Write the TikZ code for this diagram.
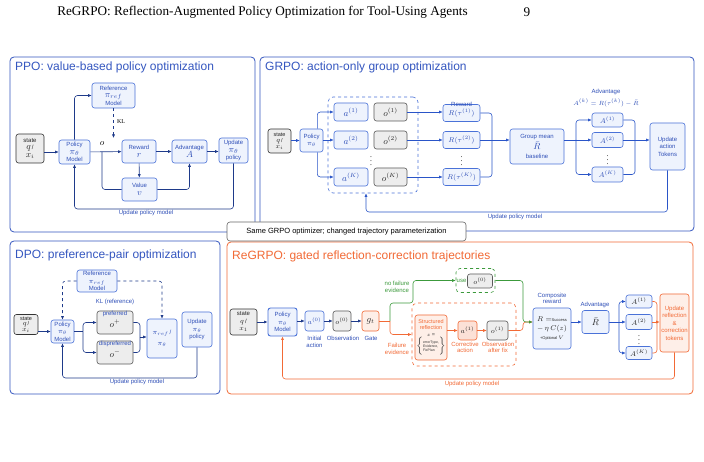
\documentclass[tikz,border=0pt]{standalone}
\usepackage{fontspec}
\setmainfont{Liberation Serif}
\setsansfont{Liberation Sans}
\usetikzlibrary{arrows.meta}
\definecolor{pblue}{HTML}{3557C0}
\definecolor{nblue}{HTML}{4A72D8}
\definecolor{bfill}{HTML}{EEF3FD}
\definecolor{navy}{HTML}{1E3A8A}
\definecolor{garr}{HTML}{2A55C8}
\definecolor{gborder}{HTML}{5A5A5A}
\definecolor{gfill}{HTML}{EDEDED}
\definecolor{orng}{HTML}{F26A36}
\definecolor{ofill}{HTML}{FEEFE8}
\definecolor{grn}{HTML}{3C9A3C}
\definecolor{tblue}{HTML}{3050B8}
\newcommand{\MyM}[1]{{\fontsize{9}{9}\selectfont$#1$}}
\newcommand{\MyS}[1]{{\fontsize{7.5}{8}\selectfont$#1$}}
\tikzset{
  panel/.style={draw=pblue, rounded corners=4pt, line width=0.8pt},
  ptitle/.style={anchor=west, font=\fontsize{12}{12}\selectfont\sffamily, text=pblue, inner sep=0pt},
  bx/.style={rounded corners=2.5pt, line width=0.6pt, align=center, inner sep=0pt,
     font=\fontsize{6}{7.5}\selectfont\sffamily},
  bbox/.style={bx, draw=nblue, fill=bfill, text=tblue},
  gbox/.style={bx, draw=gborder, fill=gfill, text=black!85},
  sbox/.style={bx, draw=black!80, fill=gfill, text=black!85},
  obox/.style={bx, draw=orng, fill=ofill, text=orng},
  lab/.style={font=\fontsize{6}{6.5}\selectfont\sffamily, text=tblue, align=center, inner sep=0pt},
  olab/.style={lab, text=orng},
  glab/.style={lab, text=grn},
  arr/.style={-{Latex[length=3.5pt,width=3pt]}, line width=0.6pt, draw=navy},
  ln/.style={line width=0.6pt, draw=navy},
  garrow/.style={arr, draw=garr},
  gln/.style={ln, draw=garr},
  oarr/.style={arr, draw=orng},
  oln/.style={ln, draw=orng},
  grarr/.style={arr, draw=grn},
}
\begin{document}
\begin{tikzpicture}[x=1pt,y=-1pt]
\useasboundingbox (0,0) rectangle (704,462);
\fill[white] (0,0) rectangle (704,462);
% header
\node[font=\fontsize{13.2}{14}\selectfont, inner sep=0pt] (hdr) at (262.5,12) {ReGRPO: Reflection-Augmented Policy Optimization for Tool-Using Agents};
\node[font=\fontsize{13.2}{14}\selectfont, inner sep=0pt] (pg) at (527,12) {9};

% ================= PPO =================
\draw[panel] (10,57) rectangle (255,232);
\node[ptitle] (t1) at (15,67) {PPO: value-based policy optimization};
\node[sbox, minimum width=28, minimum height=29] (pst) at (30,148.5) {state\\\MyM{q}\,/\\\MyM{x_i}};
\node[bbox, minimum width=31, minimum height=24] (ppol) at (74.5,152) {Policy\\\MyM{\pi_\theta}\\Model};
\node[bbox, minimum width=43, minimum height=25] (pref) at (113.5,95.5) {Reference\\\MyM{\pi_{ref}}\\Model};
\node[bbox, minimum width=34, minimum height=23] (prew) at (139,151.5) {Reward\\\MyM{r}};
\node[bbox, minimum width=35, minimum height=23] (padv) at (189.5,151.5) {Advantage\\\MyM{A}};
\node[bbox, minimum width=29, minimum height=25] (pupd) at (233.5,150.5) {Update\\\MyM{\pi_\theta}\\policy};
\node[bbox, minimum width=35, minimum height=23] (pval) at (139.5,189.5) {Value\\\MyM{v}};
\coordinate (pklend) at (113.5,138);
\coordinate (po) at (102,152);
\coordinate (pfb) at (150,209);
\node[inner sep=0pt] (polab) at (102,144) {\MyM{o}};
\node[inner sep=0pt, font=\fontsize{6}{6}\selectfont] (pkl) at (121,122) {KL};
\draw[arr] (pst.east |- ppol) -- (ppol.west);
\draw[arr] (ppol) -- (prew);
\draw[ln, rounded corners=3pt] (po) |- (pval.west);
\draw[arr] (prew) -- (padv);
\draw[arr] (padv) -- (pupd.west |- padv);
\draw[arr] (prew) -- (pval);
\draw[arr, rounded corners=3pt] (pval.east) -| (padv.south);
\draw[arr, rounded corners=3pt] (ppol.north) |- (pref.west);
\draw[arr, dashed] (pref.south) -- (pklend);
\draw[arr, rounded corners=3pt] (pupd.south) |- (pfb) -| (ppol.south);
\node[lab] (pfbl) at (146,213) {Update policy model};

% ================= GRPO =================
\draw[panel] (260,57) rectangle (694,231);
\node[ptitle] (t2) at (265,67) {GRPO: action-only group optimization};
\node[sbox, minimum width=23, minimum height=24, font=\fontsize{5.5}{6}\selectfont\sffamily] (gst) at (279.5,141) {state\\\MyS{q}\,/\\\MyS{x_i}};
\node[bbox, minimum width=23, minimum height=23] (gpol) at (311.5,140.5) {Policy\\\MyS{\pi_\theta}};
\node[draw=nblue, dashed, rounded corners=5pt, line width=0.6pt, minimum width=90, minimum height=96, inner sep=0pt] (ggrp) at (373,145) {};
\node[bbox, minimum width=34, minimum height=18] (ga1) at (351,112) {\MyM{a^{(1)}}};
\node[gbox, minimum width=33, minimum height=18] (go1) at (390.5,112) {\MyM{o^{(1)}}};
\node[bbox, minimum width=34, minimum height=18] (ga2) at (351,140) {\MyM{a^{(2)}}};
\node[gbox, minimum width=33, minimum height=18] (go2) at (390.5,140) {\MyM{o^{(2)}}};
\node[bbox, minimum width=34, minimum height=18] (gaK) at (351,177) {\MyM{a^{(K)}}};
\node[gbox, minimum width=33, minimum height=18] (goK) at (390.5,177) {\MyM{o^{(K)}}};
\node[inner sep=0pt] (gd1) at (371,158) {\MyS{\vdots}};
\node[bbox, minimum width=37, minimum height=17] (gr1) at (461.5,113) {\MyS{R(\tau^{(1)})}};
\node[bbox, minimum width=37, minimum height=17] (gr2) at (461.5,140) {\MyS{R(\tau^{(2)})}};
\node[bbox, minimum width=37, minimum height=17] (grK) at (461.5,177) {\MyS{R(\tau^{(K)})}};
\node[lab] (grl) at (461.5,104) {Reward};
\node[inner sep=0pt] (gd2) at (461.5,158) {\MyS{\vdots}};
\draw[garrow] (gst.east |- gpol) -- (gpol.west);
\draw[garrow, rounded corners=3pt] ([xshift=-6pt]gpol.north east) |- (ga1.west);
\draw[garrow] (gpol.east |- ga2) -- (ga2.west);
\draw[garrow, rounded corners=3pt] ([xshift=-6pt]gpol.south east) |- (gaK.west);
\draw[garrow] (go1.east) -- (go1.east -| gr1.west);
\draw[garrow] (go2.east) -- (gr2.west);
\draw[garrow] (goK.east) -- (grK.west);
\coordinate (gbr) at (492,140);
\node[bbox, minimum width=54, minimum height=35] (gmean) at (537,146.5) {Group mean\\[1pt]\MyM{\bar R}\\[1pt]baseline};
\draw[gln, rounded corners=3pt] (gr1.east) -| (gbr) |- (grK.east);
\draw[gln] (gr2.east) -- (gbr);
\draw[garrow] (gbr) -- (gbr -| gmean.west);
\node[bbox, minimum width=31, minimum height=14] (gA1) at (607.5,120) {\MyS{A^{(1)}}};
\node[bbox, minimum width=31, minimum height=15] (gA2) at (607.5,140) {\MyS{A^{(2)}}};
\node[bbox, minimum width=31, minimum height=15] (gAK) at (607.5,174.5) {\MyS{A^{(K)}}};
\node[inner sep=0pt] (gd3) at (607.5,157) {\MyS{\vdots}};
\node[lab] (gadvl) at (606,92) {Advantage};
\node[lab] (gform) at (606,103) {$A^{(k)}=R(\tau^{(k)})-\bar R$};
\coordinate (gfk) at (576,140);
\draw[garrow] (gmean.east |- gfk) -- (gA2.west);
\draw[garrow, rounded corners=3pt] (gfk) |- (gA1.west);
\draw[garrow, rounded corners=3pt] (gfk) |- (gAK.west);
\node[bbox, minimum width=35, minimum height=47] (gupd) at (667.5,146.5) {Update\\action\\Tokens};
\coordinate (gbr2) at (635,140);
\draw[gln, rounded corners=3pt] (gA1.east) -| (gbr2) |- (gAK.east);
\draw[gln] (gA2.east) -- (gbr2);
\draw[garrow] (gbr2) -- (gbr2 -| gupd.west);
\coordinate (gfb) at (500,212);
\draw[garrow, rounded corners=3pt] (gupd.south) |- (gfb) -| ([xshift=-7pt]ggrp.south);
\node[lab] (gfbl) at (515,217) {Update policy model};

% ================= DPO =================
\draw[panel] (10,241) rectangle (220,394);
\node[ptitle] (t3) at (15,255) {DPO: preference-pair optimization};
\node[sbox, minimum width=24, minimum height=20, font=\fontsize{5.5}{5.5}\selectfont\sffamily] (dst) at (26,324.5) {state\\\MyS{q}\,/\\\MyS{x_i}};
\node[bbox, minimum width=23, minimum height=23] (dpol) at (62.5,331.5) {Policy\\\MyS{\pi_\theta}\\Model};
\node[bbox, minimum width=40, minimum height=22] (dref) at (97,281) {Reference\\\MyS{\pi_{ref}}\\Model};
\node[gbox, minimum width=36, minimum height=23] (dpre) at (115,322.5) {\\[1pt]\MyM{o^+}};
\node[gbox, minimum width=36, minimum height=23] (ddis) at (115,352.5) {\\[1pt]\MyM{o^-}};
\node[lab] (dprel) at (115,313.5) {preferred};
\node[lab] (ddisl) at (115,343.5) {dispreferred};
\node[bbox, minimum width=30, minimum height=39] (drat) at (162,338.5) {\MyS{\pi_{ref}}\,/\\[4pt]\MyS{\pi_\theta}};
\node[bbox, minimum width=30, minimum height=35] (dupd) at (197,329.5) {Update\\\MyS{\pi_\theta}\\policy};
\node[lab] (dkl) at (115,302) {KL (reference)};
\draw[arr] (dst.east |- dpol) -- (dpol.west);
\draw[arr, dashed, rounded corners=3pt] (dref.west) -| (dpol.north);
\draw[arr, dashed, rounded corners=3pt] (dref.east) -| (drat.north);
\coordinate (dfk) at (83,331.5);
\draw[ln] (dpol.east) -- (dfk);
\draw[arr, rounded corners=3pt] (dfk) |- (dpre.west);
\draw[arr, rounded corners=3pt] (dfk) |- (ddis.west);
\coordinate (dmg) at (140,337);
\draw[ln, rounded corners=3pt] (dpre.east) -| (dmg);
\draw[ln, rounded corners=3pt] (ddis.east) -| (dmg);
\draw[arr] (dmg) -- (dmg -| drat.west);
\coordinate (dfb) at (130,378);
\draw[arr, rounded corners=3pt] (dupd.south) |- (dfb) -| (dpol.south);
\node[lab] (dfbl) at (137,381.5) {Update policy model};

% ================= ReGRPO =================
\draw[panel, draw=orng] (227,242) rectangle (693,394);
\node[ptitle, text=orng] (t4) at (232,256) {ReGRPO: gated reflection-correction trajectories};
\node[sbox, minimum width=27, minimum height=26] (rst) at (243.5,322) {state\\\MyS{q}\,/\\\MyS{x_1}};
\node[bbox, line width=0.9pt, minimum width=29, minimum height=28] (rpol) at (282.5,322) {Policy\\\MyS{\pi_\theta}\\Model};
\node[bbox, minimum width=19, minimum height=20] (ra0) at (314.5,321) {\MyS{a^{(0)}}};
\node[gbox, minimum width=18, minimum height=20] (ro0) at (342,321) {\MyS{o^{(0)}}};
\node[obox, minimum width=17, minimum height=20, text=black!85] (rg) at (370.5,321) {\MyM{g_t}};
\node[lab] (rl1) at (314.5,342) {Initial\\action};
\node[lab] (rl2) at (343,338) {Observation};
\node[lab] (rl3) at (371,338) {Gate};
\draw[arr] (rst.east |- rpol) -- (rpol.west);
\draw[arr] (rpol.east |- ra0) -- (ra0.west);
\draw[arr] (ra0) -- (ro0);
\draw[arr] (ro0) -- (rg);
\node[draw=grn, dashed, rounded corners=4pt, line width=0.6pt, minimum width=39, minimum height=24, inner sep=0pt] (ruse) at (475.5,280.5) {};
\node[glab] (rusel) at (461.5,281) {use};
\node[gbox, minimum width=25, minimum height=14] (ro0b) at (480,281) {\MyS{o^{(0)}}};
\node[draw=orng, dashed, rounded corners=5pt, line width=0.6pt, minimum width=104, minimum height=63, inner sep=0pt] (rfix) at (464,334.5) {};
\coordinate (rfk) at (390,321);
\coordinate (rgm) at (413,303);
\draw[oln, rounded corners=3pt] (rg.east) -- (rfk);
\draw[grarr, rounded corners=3pt] (rfk) |- (rgm) |- (ruse.west);
\draw[oarr, rounded corners=3pt] (rfk) |- (rfix.west);
\node[glab] (rnf) at (397,287) {no failure\\evidence};
\node[olab] (rfe) at (397,349) {Failure\\evidence};
\node[obox, minimum width=32, minimum height=45, text=orng, font=\fontsize{5.5}{6}\selectfont\sffamily] (rrefl) at (431,337.5)
  {Structured\\reflection\\[1pt]{\color{black!80}$z$ =}\\{\color{black!80}$\left\{\begin{tabular}{@{}l@{}}\fontsize{3.5}{3.8}\selectfont errorType,\\[-2pt]\fontsize{3.5}{3.8}\selectfont Evidence,\\[-2pt]\fontsize{3.5}{3.8}\selectfont FixPlan\end{tabular}\right\}$}};
\node[obox, minimum width=19, minimum height=19, text=black!85, fill=orng!20] (ra1) at (467.5,330.5) {\MyS{a^{(1)}}};
\node[gbox, minimum width=21, minimum height=19] (ro1) at (497.5,330.5) {\MyS{o^{(1)}}};
\draw[oarr] (rrefl.east |- ra1) -- (ra1.west);
\draw[oarr] (ra1) -- (ro1);
\node[olab] (rl4) at (465,347.5) {Corrective\\action};
\node[olab] (rl5) at (498,347.5) {Observation\\after fix};
\node[bbox, minimum width=38, minimum height=41, text=black!85] (rcomp) at (552,328.5)
  {\MyS{R=}{\fontsize{4}{4}\selectfont Success}\\[2pt]\MyS{-\,\eta\,C(z)}\\[1pt]{\fontsize{4}{4}\selectfont +Optional $V$}};
\node[lab] (rcl) at (552,298.5) {Composite\\reward};
\coordinate (rmg) at (523,322);
\draw[oarr, rounded corners=3pt] (ro1.east) -| (rmg) -- (rmg -| rcomp.west);
\draw[grarr, rounded corners=3pt] (ruse.east) -| (rmg) -- (rmg -| rcomp.west);
\node[bbox, minimum width=27, minimum height=23, text=black!85] (radv) at (595.5,322) {\MyM{\bar R}};
\node[lab] (ral) at (595,305) {Advantage};
\draw[garrow] (rcomp.east |- radv) -- (radv.west);
\node[bbox, minimum width=26, minimum height=13, text=black!85] (rA1) at (639,301.5) {\MyS{A^{(1)}}};
\node[bbox, minimum width=26, minimum height=15, text=black!85] (rA2) at (639,322) {\MyS{A^{(2)}}};
\node[bbox, minimum width=26, minimum height=13, text=black!85] (rAK) at (639,353) {\MyS{A^{(K)}}};
\node[inner sep=0pt] (rd) at (639,337) {\MyS{\vdots}};
\coordinate (rfk2) at (619,322);
\draw[garrow] (radv.east) -- (rA2.west);
\draw[garrow, rounded corners=3pt] (rfk2) |- (rA1.west);
\draw[garrow, rounded corners=3pt] (rfk2) |- (rAK.west);
\node[obox, minimum width=29, minimum height=58] (rupd) at (674.5,323) {Update\\reflection\\\&\\correction\\tokens};
\coordinate (rbr) at (657,322);
\draw[oln, rounded corners=3pt] (rA1.east) -| (rbr) |- (rAK.east);
\draw[oln] (rA2.east) -- (rbr);
\draw[oarr] (rbr) -- (rbr -| rupd.west);
\coordinate (rfb) at (480,379);
\draw[oarr, rounded corners=3pt] (rupd.south) |- (rfb) -| (rpol.south);
\node[olab] (rfbl) at (472,384) {Update policy model};

% shared note
\node[draw=black!60, fill=white, rounded corners=3pt, line width=0.6pt, minimum width=239, minimum height=19, inner sep=0pt,
  font=\fontsize{7.5}{8}\selectfont\sffamily] (same) at (346.5,231.5) {Same GRPO optimizer; changed trajectory parameterization};
\end{tikzpicture}
\end{document}
